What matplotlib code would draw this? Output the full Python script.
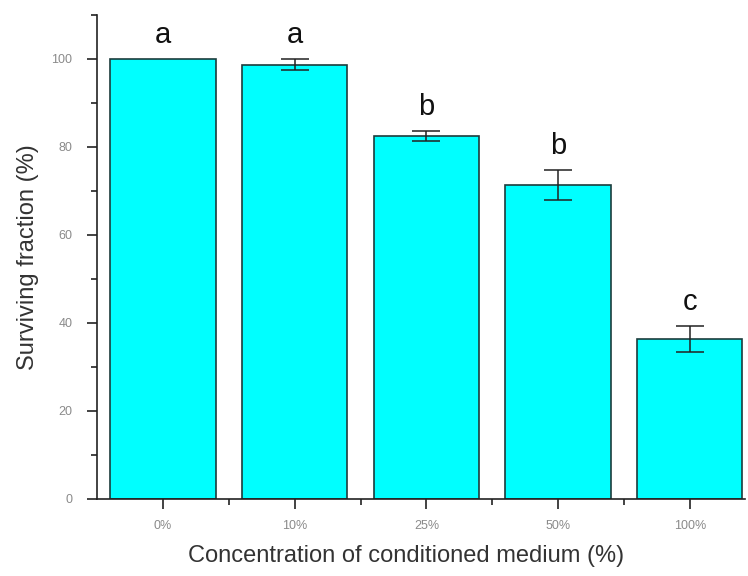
import matplotlib.pyplot as plt
from matplotlib.ticker import MultipleLocator

plt.rcParams['font.family'] = ['Liberation Sans', 'DejaVu Sans']

categories = ['0%', '10%', '25%', '50%', '100%']
surviving = [100.0, 98.7, 82.5, 71.3, 36.3]
errors = [0.0, 1.2, 1.1, 3.4, 3.0]
letters = ['a', 'a', 'b', 'b', 'c']

fig = plt.figure(figsize=(7.48, 5.76), dpi=100)
ax = fig.add_axes([0.130, 0.134, 0.866, 0.840])

x = list(range(len(categories)))
ax.bar(x, surviving, width=0.8, color='#00ffff', edgecolor='#1c3c3c', linewidth=1.2, zorder=2)
ax.errorbar(x[1:], surviving[1:], yerr=errors[1:], fmt='none', ecolor='#222222',
            elinewidth=1.1, capsize=10, capthick=1.1, zorder=3)

# significance letters above the error bars
for xi, v, e, lab in zip(x, surviving, errors, letters):
    ax.text(xi, v + e + 5.5, lab, ha='center', va='center', fontsize=21, color='#111111')

ax.set_xlim(-0.5, 4.42)
ax.set_ylim(0, 110)
ax.set_xticks(x)
ax.set_xticklabels(categories)
ax.set_xticks([i + 0.5 for i in x[:-1]], minor=True)
ax.yaxis.set_major_locator(MultipleLocator(20))
ax.yaxis.set_minor_locator(MultipleLocator(10))

ax.spines['top'].set_visible(False)
ax.spines['right'].set_visible(False)
for s in ('left', 'bottom'):
    ax.spines[s].set_linewidth(1.2)
    ax.spines[s].set_color('#222222')

ax.tick_params(axis='both', which='major', direction='out', length=7, width=1.2,
               labelsize=9, labelcolor='#8a8a8a', color='#222222')
ax.tick_params(axis='both', which='minor', direction='out', length=4, width=1.2, color='#222222')
ax.tick_params(axis='x', which='major', pad=8)
ax.tick_params(axis='y', which='major', pad=11)

ax.set_ylabel('Surviving fraction (%)', fontsize=17, color='#333333')
ax.set_xlabel('Concentration of conditioned medium (%)', fontsize=17, color='#333333')
ax.yaxis.set_label_coords(-0.09, 0.5)
ax.xaxis.set_label_coords(0.477, -0.095)

fig.savefig('out.png', dpi=100)
